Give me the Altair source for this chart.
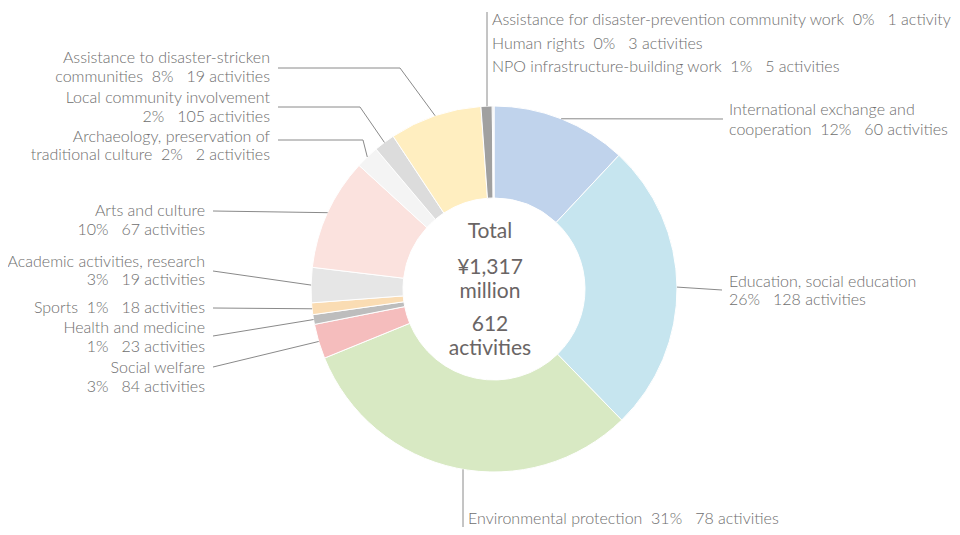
import math
import pandas as pd
import altair as alt

# ---------------- data ----------------
categories = [
    "International exchange and cooperation",
    "Education, social education",
    "Environmental protection",
    "Social welfare",
    "Health and medicine",
    "Sports",
    "Academic activities, research",
    "Arts and culture",
    "Archaeology, preservation of traditional culture",
    "Local community involvement",
    "Assistance to disaster-stricken communities",
    "NPO infrastructure-building work",
    "Human rights",
    "Assistance for disaster-prevention community work",
]
amounts = [157.5, 339.0, 410.0, 40.3, 11.3, 13.6, 40.8, 130.5, 27.0, 24.5, 107.3, 13.0, 1.2, 0.8]  # million yen
percents = ["12%", "26%", "31%", "3%", "1%", "1%", "3%", "10%", "2%", "2%", "8%", "1%", "0%", "0%"]
activities = [60, 128, 78, 84, 23, 18, 19, 67, 2, 105, 19, 5, 3, 1]
colors = ["#C0D3EC", "#C6E5EF", "#D8E9C3", "#F5BDBD", "#BDBDBD", "#FADCB3", "#E6E6E6",
          "#FBE2DE", "#F4F4F4", "#DCDCDC", "#FFEEC0", "#A0A0A0", "#A0A0A0", "#A0A0A0"]
center_lines = ["Total", "¥1,317", "million", "612", "activities"]

# label line templates ({p} = percent, {a} = activities text)
label_templates = [
    ["International exchange and", "cooperation\u00a0\u00a0{p}\u00a0\u00a0\u00a0{a}"],
    ["Education, social education", "{p}\u00a0\u00a0\u00a0{a}"],
    ["Environmental protection\u00a0\u00a0{p}\u00a0\u00a0\u00a0{a}"],
    ["Social welfare", "{p}\u00a0\u00a0\u00a0{a}"],
    ["Health and medicine", "{p}\u00a0\u00a0\u00a0{a}"],
    ["Sports\u00a0\u00a0{p}\u00a0\u00a0\u00a0{a}"],
    ["Academic activities, research", "{p}\u00a0\u00a0\u00a0{a}"],
    ["Arts and culture", "{p}\u00a0\u00a0\u00a0{a}"],
    ["Archaeology, preservation of", "traditional culture\u00a0\u00a0{p}\u00a0\u00a0\u00a0{a}"],
    ["Local community involvement", "{p}\u00a0\u00a0\u00a0{a}"],
    ["Assistance to disaster-stricken", "communities\u00a0\u00a0{p}\u00a0\u00a0\u00a0{a}"],
    ["NPO infrastructure-building work\u00a0\u00a0{p}\u00a0\u00a0\u00a0{a}"],
    ["Human rights\u00a0\u00a0{p}\u00a0\u00a0\u00a0{a}"],
    ["Assistance for disaster-prevention community work\u00a0\u00a0{p}\u00a0\u00a0\u00a0{a}"],
]

# ---------------- layout (page pixel coordinates) ----------------
W, H = 944, 519
CX, CY, R, R_IN = 494, 289, 183, 91
label_x = [729, 729, 468, 205, 205, 205, 205, 205, 270, 270, 270, 492, 492, 492]
label_align = ["left", "left", "left", "right", "right", "right", "right", "right",
               "right", "right", "right", "left", "left", "left"]
label_y = [[110, 130], [282, 300], [519], [368, 387], [328, 347], [308], [262, 280],
           [211, 230], [137, 155], [98, 117], [58, 77], [67], [44], [20]]
# leader points after the start on the slice edge (None = no leader)
leader_tail = [
    [(723, 119)],
    [(722, 290)],
    [(463, 527)],
    [(213, 367)],
    [(213, 336)],
    [(213, 308)],
    [(213, 271)],
    [(213, 211)],
    [(363, 140), (278, 140)],
    [(360, 107), (278, 107)],
    [(400, 68), (278, 68)],
    [(487, 12)],
    None,
    None,
]
vertical_leader = [False, False, True, False, False, False, False, False, False, False, False, True, False, False]

FONT = "Lato"
TXT = "#6e6e6e"
LINE = "#8a8a8a"

# ---------------- build tables ----------------
df = pd.DataFrame({"category": categories, "amount": amounts, "idx": range(len(categories))})

total = sum(amounts)
cum = 0.0
mids = []
for a in amounts:
    mids.append((cum + a / 2) / total * 2 * math.pi)
    cum += a

leader_rows = []
for i, tail in enumerate(leader_tail):
    if tail is None:
        continue
    th = mids[i]
    sx, sy = CX + R * math.sin(th), CY - R * math.cos(th)
    if vertical_leader[i]:
        sx = tail[0][0]
        dy = math.sqrt(max(R * R - (sx - CX) ** 2, 0))
        sy = CY + dy if math.cos(th) < 0 else CY - dy
    pts = [(sx, sy)] + list(tail)
    for k, (px, py) in enumerate(pts):
        leader_rows.append({"lid": i, "k": k, "px": px, "py": py})
leaders = pd.DataFrame(leader_rows)

text_rows = []
for i, tmpl in enumerate(label_templates):
    act = f"{activities[i]} activity" if activities[i] == 1 else f"{activities[i]} activities"
    for j, t in enumerate(tmpl):
        text_rows.append({"px": label_x[i], "py": label_y[i][j],
                          "txt": t.format(p=percents[i], a=act), "align": label_align[i]})
texts = pd.DataFrame(text_rows)

center_y = [232, 268, 292, 325, 349]
center = pd.DataFrame({"px": [490] * 5, "py": center_y, "txt": center_lines})

xs = alt.Scale(domain=[8, 8 + W], range=[0, W], nice=False, zero=False)
ys = alt.Scale(domain=[8, 8 + H], range=[0, H], nice=False, zero=False)

donut = alt.Chart(df).mark_arc(radius=R, innerRadius=R_IN, stroke="white", strokeWidth=1).encode(
    theta=alt.Theta("amount:Q", stack=True),
    color=alt.Color("category:N", scale=alt.Scale(domain=categories, range=colors), legend=None),
    order=alt.Order("idx:Q"),
    x=alt.value(CX - 8),
    y=alt.value(CY - 8),
)

lines = alt.Chart(leaders).mark_line(color=LINE, strokeWidth=1).encode(
    x=alt.X("px:Q", scale=xs, axis=None),
    y=alt.Y("py:Q", scale=ys, axis=None),
    detail="lid:N",
    order="k:Q",
)

left_txt = alt.Chart(texts[texts["align"] == "left"]).mark_text(
    align="left", baseline="middle", font=FONT, fontSize=16, fontWeight=300, color=TXT
).encode(x=alt.X("px:Q", scale=xs, axis=None), y=alt.Y("py:Q", scale=ys, axis=None), text="txt:N")

right_txt = alt.Chart(texts[texts["align"] == "right"]).mark_text(
    align="right", baseline="middle", font=FONT, fontSize=16, fontWeight=300, color=TXT
).encode(x=alt.X("px:Q", scale=xs, axis=None), y=alt.Y("py:Q", scale=ys, axis=None), text="txt:N")

center_txt = alt.Chart(center).mark_text(
    align="center", baseline="middle", font=FONT, fontSize=21, fontWeight=400, color="#6a6565"
).encode(x=alt.X("px:Q", scale=xs, axis=None), y=alt.Y("py:Q", scale=ys, axis=None), text="txt:N")

chart = alt.layer(donut, lines, left_txt, right_txt, center_txt).properties(
    width=W, height=H, padding=0, autosize=alt.AutoSizeParams(type="none"), background="white"
).configure_view(stroke=None)

chart.save("out.html", embed_options={"renderer": "svg", "actions": False})
